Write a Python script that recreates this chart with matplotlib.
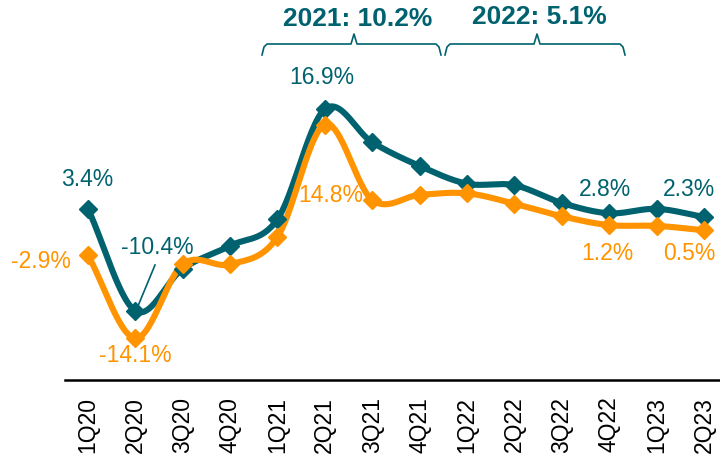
import matplotlib.pyplot as plt
import numpy as np

plt.rcParams['font.family'] = ['Liberation Sans', 'DejaVu Sans']

# data
quarters = ['1Q20', '2Q20', '3Q20', '4Q20', '1Q21', '2Q21', '3Q21', '4Q21',
            '1Q22', '2Q22', '3Q22', '4Q22', '1Q23', '2Q23']
teal_vals = [3.4, -10.4, -4.7, -1.6, 2.0, 16.9, 12.4, 9.2, 6.8, 6.6, 4.2, 2.8, 3.4, 2.3]
orange_vals = [-2.9, -14.1, -4.1, -4.1, -0.4, 14.8, 4.6, 5.3, 5.5, 4.1, 2.4, 1.2, 1.1, 0.5]
year_notes = ['2021: 10.2%', '2022: 5.1%']

teal = '#00626E'
orange = '#FF9400'


def smooth(y, n=30):
    # catmull-rom style smoothing like excel's smoothed line
    x = np.arange(len(y), dtype=float)
    y = np.asarray(y, dtype=float)
    px = np.concatenate([[2 * x[0] - x[1]], x, [2 * x[-1] - x[-2]]])
    py = np.concatenate([[2 * y[0] - y[1]], y, [2 * y[-1] - y[-2]]])
    xs, ys = [], []
    t = np.linspace(0, 1, n)
    for i in range(1, len(px) - 2):
        for arr, out in ((px, xs), (py, ys)):
            p0, p1, p2, p3 = arr[i - 1], arr[i], arr[i + 1], arr[i + 2]
            m1 = (p2 - p0) / 2
            m2 = (p3 - p1) / 2
            h00 = 2 * t**3 - 3 * t**2 + 1
            h10 = t**3 - 2 * t**2 + t
            h01 = -2 * t**3 + 3 * t**2
            h11 = t**3 - t**2
            out.extend(h00 * p1 + h10 * m1 + h01 * p2 + h11 * m2)
    return np.array(xs), np.array(ys)


fig = plt.figure(figsize=(7.2, 4.67), dpi=100)
ax = fig.add_axes([65 / 720, 87 / 467, 655 / 720, 380 / 467])

x = np.arange(len(quarters))
for vals, c in ((teal_vals, teal), (orange_vals, orange)):
    sx, sy = smooth(vals)
    ax.plot(sx, sy, color=c, lw=4.4, solid_capstyle='round', zorder=3)
    ax.plot(x, vals, ls='none', marker='D', ms=9, color=c, zorder=4)

ax.set_xlim(-0.485, 13.34)
ax.set_ylim(-19.76, 31.66)
ax.set_xticks(x)
ax.set_xticklabels(quarters, rotation=90, fontsize=16.5, color='black')
ax.tick_params(axis='x', length=0, pad=12)
ax.set_yticks([])
for s in ['top', 'right', 'left']:
    ax.spines[s].set_visible(False)
ax.spines['bottom'].set_linewidth(1.8)
ax.spines['bottom'].set_color('black')


def px(xp, yp):
    # pixel position of the reference -> figure fraction
    return xp / 720, 1 - yp / 467


lbl = dict(fontsize=16.5, ha='center', va='center')
fig.text(*px(87, 180), '3.4%', color=teal, **lbl)
fig.text(*px(41, 261), '-2.9%', color=orange, **lbl)
fig.text(*px(157, 248), '-10.4%', color=teal, **lbl)
fig.text(*px(135, 355), '-14.1%', color=orange, **lbl)
fig.text(*px(322, 77), '16.9%', color=teal, **lbl)
fig.text(*px(331, 195), '14.8%', color=orange, **lbl)
fig.text(*px(605, 190), '2.8%', color=teal, **lbl)
fig.text(*px(689, 190), '2.3%', color=teal, **lbl)
fig.text(*px(607, 253), '1.2%', color=orange, **lbl)
fig.text(*px(689, 253), '0.5%', color=orange, **lbl)

# leader line for -10.4%
fig.add_artist(plt.Line2D([155 / 720, 138 / 720], [1 - 265 / 467, 1 - 306 / 467],
                          color=teal, lw=1.2))

# year brackets
def bracket(x0, x1, xm, y, col):
    xs = [x0, x0 + 2, x0 + 5, xm - 3, xm, xm + 3, x1 - 5, x1 - 2, x1]
    ys = [y + 11, y + 3, y, y, y - 10, y, y, y + 3, y + 11]
    fig.add_artist(plt.Line2D([v / 720 for v in xs], [1 - v / 467 for v in ys],
                              color=col, lw=1.2))

bracket(262, 441, 354, 44, teal)
bracket(445, 625, 537, 44, teal)
fig.text(*px(358, 19), year_notes[0], color=teal, fontsize=19, fontweight='bold',
         ha='center', va='center')
fig.text(*px(539, 17), year_notes[1], color=teal, fontsize=19, fontweight='bold',
         ha='center', va='center')

fig.savefig('out.png', dpi=100)
